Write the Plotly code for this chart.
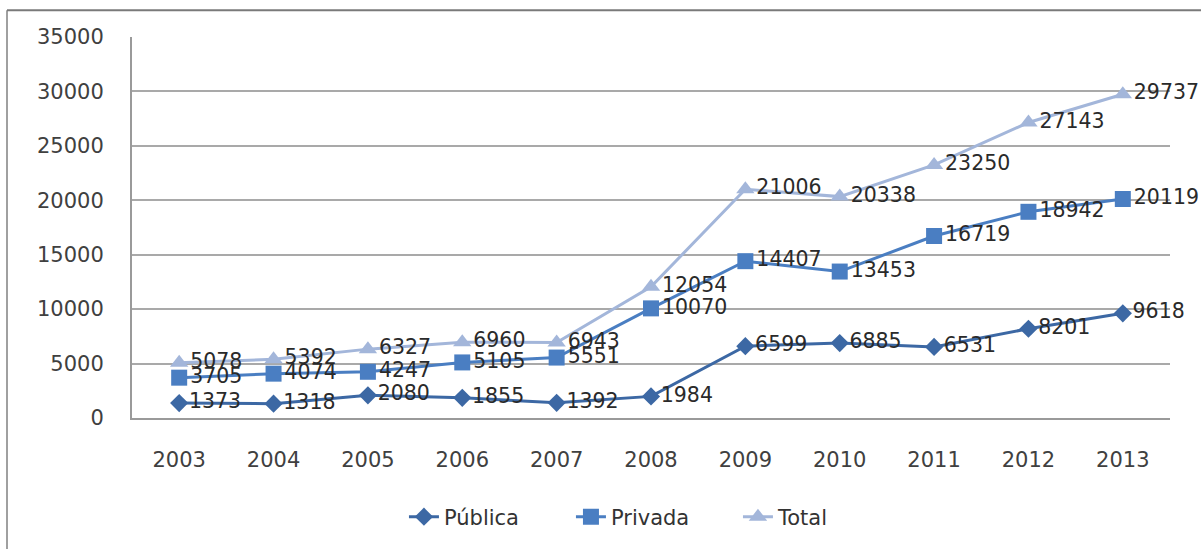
import plotly.graph_objects as go

years = ["2003", "2004", "2005", "2006", "2007", "2008", "2009", "2010", "2011", "2012", "2013"]
publica = [1373, 1318, 2080, 1855, 1392, 1984, 6599, 6885, 6531, 8201, 9618]
privada = [3705, 4074, 4247, 5105, 5551, 10070, 14407, 13453, 16719, 18942, 20119]
total = [5078, 5392, 6327, 6960, 6943, 12054, 21006, 20338, 23250, 27143, 29737]

W, H = 1201, 549
L, R, T, B = 132, 31, 37, 129
pw = W - L - R
ph = H - T - B

font = "DejaVu Sans, Verdana, sans-serif"
label_font = dict(family=font, size=20.5, color="#2a2a2a")

fig = go.Figure()
series = [
    ("Pública", publica, "#3C68A4", "diamond", 14),
    ("Privada", privada, "#4A7EC2", "square", 16),
    ("Total", total, "#A3B6DA", "triangle-up", 16),
]
for name, vals, color, sym, size in series:
    fig.add_trace(go.Scatter(
        x=years, y=vals, name=name, mode="lines+markers+text",
        line=dict(color=color, width=3),
        marker=dict(symbol=sym, size=size, color=color),
        text=[str(v) for v in vals], textposition="middle right",
        textfont=label_font, cliponaxis=False,
    ))

fig.update_layout(
    width=W, height=H,
    margin=dict(l=L, r=R, t=T, b=B),
    paper_bgcolor="white", plot_bgcolor="white",
    showlegend=True,
    legend=dict(orientation="h", x=0.262, xanchor="left", y=-0.26, yanchor="middle",
                font=dict(family=font, size=21, color="#333333"), entrywidth=122,
                traceorder="normal"),
    xaxis=dict(type="category", range=[-0.5, 10.5], showgrid=False, showline=True,
               linecolor="#9a9a9a", linewidth=2, ticks="",
               tickfont=dict(family=font, size=21, color="#404040"), ticklabelstandoff=22),
    yaxis=dict(range=[0, 35000], dtick=5000, tickformat="d", showgrid=True, gridcolor="#a9a9a9",
               gridwidth=2, showline=True, linecolor="#9a9a9a", linewidth=2, zeroline=False,
               tickfont=dict(family=font, size=21, color="#404040"), ticklabelstandoff=22),
)

# outer chart border (left and top edges visible)
x_left = (7 - L) / pw
y_top = (H - B - 10) / ph
fig.add_shape(type="line", xref="paper", yref="paper", x0=x_left, x1=x_left, y0=y_top, y1=-0.5,
              line=dict(color="#a0a0a0", width=2))
fig.add_shape(type="line", xref="paper", yref="paper", x0=x_left, x1=1.2, y0=y_top, y1=y_top,
              line=dict(color="#7a7a7a", width=2))

fig.write_html("out.html")
